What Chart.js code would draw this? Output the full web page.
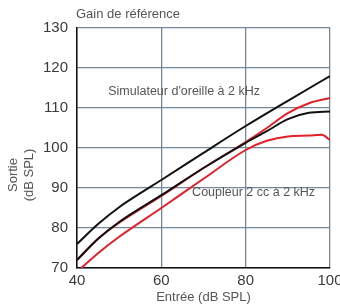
<!DOCTYPE html>
<html><head><meta charset="utf-8">
<script src="https://cdn.jsdelivr.net/npm/chart.js@4"></script>
<style>html,body{margin:0;padding:0;background:#fff}#wrap{width:340px;height:305px}</style>
</head><body><div id="wrap"><canvas id="c" width="340" height="305"></canvas></div>
<script>
// Data
const simX = [40, 45, 50, 55, 60, 70, 80, 90, 100];
const simY = [76, 81, 85.2, 88.7, 92, 98.8, 105.5, 111.8, 118];
const simRedX = [40, 45, 50, 60, 70, 80, 85, 90, 95, 100];
const simRedY = [72, 77.3, 81.3, 88, 95, 101.5, 105, 108.7, 111.2, 112.5];
const coupX = [40, 45, 50, 60, 70, 80, 85, 90, 95, 100];
const coupY = [72, 77.3, 81.5, 88.2, 95, 101.3, 104.2, 107.2, 108.8, 109.1];
const coupRedX = [41, 45, 50, 60, 70, 80, 85, 90, 95, 98, 100];
const coupRedY = [70, 73.7, 77.8, 85, 92.3, 99.5, 101.8, 102.9, 103.1, 103.3, 102];
const xTicks = [40, 60, 80, 100];
const yTicks = [70, 80, 90, 100, 110, 120, 130];
const chartTitle = 'Gain de référence';
const xTitle = 'Entrée (dB SPL)';
const yTitle = ['Sortie', '(dB SPL)'];
const notes = [
  {text: "Simulateur d'oreille à 2 kHz", x: 47.4, y: 114},
  {text: 'Coupleur 2 cc à 2 kHz', x: 67.3, y: 88.75}
];

const pts = (xs, ys) => xs.map((x, i) => ({x, y: ys[i]}));
const FONT = "'Liberation Sans', Arial, sans-serif";

const textPlugin = {
  id: 'texts',
  afterDraw(chart) {
    const ctx = chart.ctx, a = chart.chartArea, sx = chart.scales.x, sy = chart.scales.y;
    ctx.save();
    ctx.fillStyle = '#555';
    ctx.font = '13px ' + FONT;
    ctx.textBaseline = 'middle';
    ctx.textAlign = 'left';
    ctx.fillText(chartTitle, a.left - 1, 14);
    ctx.font = '12.5px ' + FONT;
    notes.forEach(n => ctx.fillText(n.text, sx.getPixelForValue(n.x), sy.getPixelForValue(n.y)));
    // y title
    ctx.translate(21, 175);
    ctx.rotate(-Math.PI / 2);
    ctx.textAlign = 'center';
    ctx.font = '13px ' + FONT;
    ctx.fillText(yTitle[0], 0, -8);
    ctx.fillText(yTitle[1], 0, 8);
    ctx.restore();
  }
};

const ds = (xs, ys, color) => ({
  data: pts(xs, ys), borderColor: color, borderWidth: 2, pointRadius: 0,
  tension: 0.35, cubicInterpolationMode: 'monotone', fill: false
});

new Chart(document.getElementById('c'), {
  type: 'line',
  data: {
    datasets: [
      ds(simX, simY, '#111111'),
      ds(coupX, coupY, '#111111'),
      ds(simRedX, simRedY, '#e3202a'),
      ds(coupRedX, coupRedY, '#e3202a')
    ]
  },
  options: {
    responsive: false, animation: false, devicePixelRatio: 1,
    layout: {padding: {left: 0, right: 10, top: 28, bottom: 0}},
    plugins: {legend: {display: false}, tooltip: {enabled: false}, title: {display: false}},
    scales: {
      x: {
        type: 'linear', min: 40, max: 100,
        afterBuildTicks: s => { s.ticks = xTicks.map(v => ({value: v})); },
        afterFit: s => { s.height = 37; s.paddingLeft = 0; s.paddingRight = 0; },
        grid: {color: '#75879a', lineWidth: 1.3, drawTicks: false},
        border: {color: '#111', width: 1.5},
        ticks: {color: '#3a3a3a', font: {family: FONT, size: 15}, padding: 4, maxRotation: 0},
        title: {display: true, text: xTitle, color: '#555', font: {family: FONT, size: 13}, padding: {top: 1, bottom: 0}}
      },
      y: {
        min: 70, max: 130,
        afterBuildTicks: s => { s.ticks = yTicks.map(v => ({value: v})); },
        afterFit: s => { s.width = 77; s.paddingTop = 0; s.paddingBottom = 0; },
        grid: {color: '#75879a', lineWidth: 1.3, drawTicks: false},
        border: {color: '#111', width: 1.5},
        ticks: {color: '#3a3a3a', font: {family: FONT, size: 15}, padding: 9}
      }
    }
  },
  plugins: [textPlugin]
});
</script></body></html>
